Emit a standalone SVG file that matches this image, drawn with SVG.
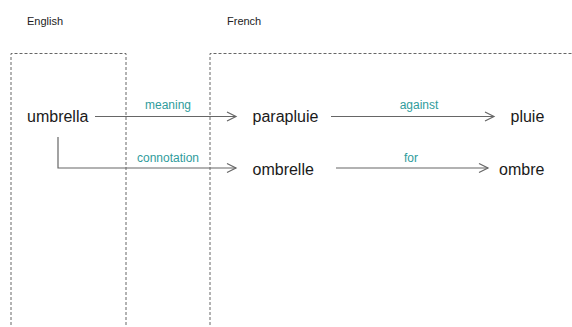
<svg xmlns="http://www.w3.org/2000/svg" width="572" height="327" viewBox="0 0 572 327">
<defs>
<marker id="arr" markerWidth="12" markerHeight="12" refX="10" refY="6" orient="auto" markerUnits="userSpaceOnUse">
<path d="M1,1.5 L10,6 L1,10.5" fill="none" stroke="#666" stroke-width="1.2"/>
</marker>
</defs>
<style>
.box{fill:none;stroke:#666;stroke-width:1;stroke-dasharray:3,2}
.hdr{font-family:"Liberation Sans",Arial,sans-serif;font-size:11px;fill:#222}
.word{font-family:"Liberation Sans",Arial,sans-serif;font-size:16px;fill:#1a1a1a}
.lbl{font-family:"Liberation Sans",Arial,sans-serif;font-size:12px;fill:#2f9c9c;text-anchor:middle}
.edge{fill:none;stroke:#666;stroke-width:1.2;marker-end:url(#arr)}
</style>
<rect width="572" height="327" fill="#fff"/>
<g id="english">
<path class="box" d="M11,340 V53.5 H126 V340"/>
<text class="hdr" x="27" y="25">English</text>
</g>
<g id="french">
<path class="box" d="M210,340 V53.5 H580"/>
<text class="hdr" x="227" y="25">French</text>
</g>
<g id="umbrella"><text class="word" x="27" y="122">umbrella</text></g>
<g id="parapluie"><text class="word" x="252.5" y="122">parapluie</text></g>
<g id="pluie"><text class="word" x="510.5" y="122">pluie</text></g>
<g id="ombrelle"><text class="word" x="252.5" y="175">ombrelle</text></g>
<g id="ombre"><text class="word" x="499" y="175">ombre</text></g>
<g id="connectors">
<path class="edge" d="M95,116.5 H236"/>
<text class="lbl" x="168" y="109">meaning</text>
<path class="edge" d="M58,137 V168 H236"/>
<text class="lbl" x="168" y="162">connotation</text>
<path class="edge" d="M331,116.5 H494"/>
<text class="lbl" x="419" y="109">against</text>
<path class="edge" d="M336,168 H488"/>
<text class="lbl" x="411" y="162">for</text>
</g>
</svg>
